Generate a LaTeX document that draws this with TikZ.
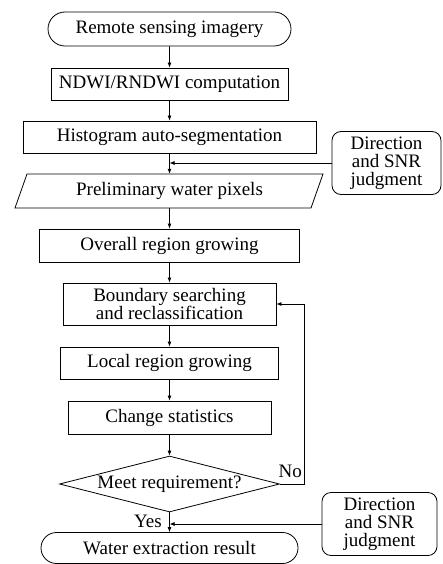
\documentclass[tikz,border=0pt]{standalone}
\usepackage{fontspec}
\setmainfont{Liberation Serif}
\newfontfamily\tnr{Liberation Serif}
\usetikzlibrary{shapes.geometric,shapes.misc,arrows.meta}
\begin{document}
\begin{tikzpicture}[x=1pt,y=-1pt,
  every node/.style={font=\tnr\fontsize{19}{18}\selectfont, inner sep=0pt, align=center},
  box/.style={draw, line width=0.8pt, rectangle},
  term/.style={draw, line width=0.8pt, rounded rectangle},
  side/.style={draw, line width=0.8pt, rectangle, rounded corners=9pt},
  dec/.style={draw, line width=0.8pt, diamond, aspect=3.9},
  conn/.style={line width=0.8pt, -{Latex[length=5pt,width=4pt]}},
  lbl/.style={font=\tnr\fontsize{19}{18}\selectfont}
]
\useasboundingbox (0,0) rectangle (442,564);

\node[term, minimum width=243pt, minimum height=34pt] (t1) at (169.5,29) {Remote sensing imagery};
\node[box, minimum width=237pt, minimum height=32pt] (ndwi) at (169.5,84) {NDWI/RNDWI computation};
\node[box, minimum width=293pt, minimum height=32pt] (hist) at (169.5,137) {Histogram auto-segmentation};
\node[minimum width=284pt, minimum height=34pt] (pre) at (169.5,191) {Preliminary water pixels};
\draw[line width=0.8pt] (15,208) -- (27,174) -- (323,174) -- (311,208) -- cycle;
\node[box, minimum width=260pt, minimum height=33pt] (over) at (169.5,245.5) {Overall region growing};
\node[box, minimum width=213pt, minimum height=42pt] (bound) at (169.5,304) {Boundary searching\\and reclassification};
\node[box, minimum width=218pt, minimum height=32pt] (local) at (169.5,363) {Local region growing};
\node[box, minimum width=203pt, minimum height=33pt] (chg) at (169.5,417.5) {Change statistics};
\node[dec, minimum width=220pt, minimum height=56pt] (meet) at (169.5,484) {Meet requirement?};
\node[term, minimum width=257pt, minimum height=31pt] (t2) at (169.5,548) {Water extraction result};

\node[side, minimum width=109pt, minimum height=63pt] (d1) at (386.5,163) {Direction\\and SNR\\judgment};
\node[side, minimum width=115pt, minimum height=63pt] (d2) at (379.5,524) {Direction\\and SNR\\judgment};

\draw[conn] (t1) -- (ndwi);
\draw[conn] (ndwi) -- (hist);
\draw[conn] (hist) -- (pre.north);
\draw[conn] (pre.south) -- (over);
\draw[conn] (over) -- (bound);
\draw[conn] (bound) -- (local);
\draw[conn] (local) -- (chg);
\draw[conn] (chg) -- (meet);
\draw[conn] (meet) -- (t2);

\coordinate (j1) at (169.5,163);
\coordinate (j2) at (169.5,524);
\draw[conn] (d1.west) -- (j1);
\draw[conn] (d2.west) -- (j2);

\coordinate (fb) at (304,484);
\draw[conn] (meet.east) -- (fb) |- (bound.east);

\node[lbl, anchor=base east] (no) at (302,477) {No};
\node[lbl, anchor=base east] (yes) at (162,527) {Yes};
\end{tikzpicture}
\end{document}
